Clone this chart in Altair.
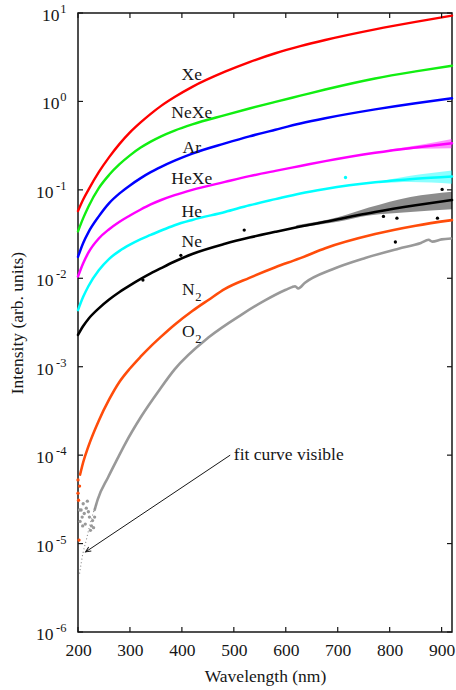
import altair as alt
import pandas as pd

# ---- measured intensity curves: wavelength (nm) and log10 of intensity (arb. units) ----
wl_grid = [200, 210, 220, 240, 260, 280, 300, 320, 340, 360, 386, 420, 483, 530,
           580, 628, 676, 772, 850, 920]
xe_log = [-1.24, -1.11, -1.00, -0.80, -0.63, -0.48, -0.35, -0.24, -0.14, -0.05,
          0.05, 0.165, 0.336, 0.445, 0.545, 0.625, 0.695, 0.815, 0.90, 0.97]
nexe_log = [-1.47, -1.32, -1.19, -0.98, -0.83, -0.71, -0.61, -0.525, -0.455, -0.395,
            -0.33, -0.26, -0.155, -0.08, -0.005, 0.065, 0.135, 0.26, 0.34, 0.404]
ar_log = [-1.757, -1.60, -1.48, -1.30, -1.15, -1.04, -0.95, -0.87, -0.80, -0.74,
          -0.67, -0.59, -0.475, -0.395, -0.32, -0.25, -0.19, -0.09, -0.02, 0.035]
hexe_log = [-1.98, -1.83, -1.71, -1.55, -1.445, -1.36, -1.29, -1.225, -1.165, -1.115,
            -1.06, -1.0, -0.91, -0.845, -0.785, -0.73, -0.675, -0.58, -0.52, -0.474]
he_log = [-2.36, -2.21, -2.09, -1.91, -1.78, -1.69, -1.62, -1.56, -1.51, -1.46,
          -1.40, -1.34, -1.25, -1.175, -1.105, -1.04, -0.99, -0.915, -0.875, -0.85]
ne_log = [-2.64, -2.54, -2.46, -2.34, -2.24, -2.155, -2.08, -2.01, -1.945, -1.885,
          -1.81, -1.725, -1.61, -1.54, -1.475, -1.415, -1.36, -1.25, -1.175, -1.115]

wl_n2 = [204, 210, 220, 240, 260, 280, 300, 320, 340, 360, 386, 420, 451, 483, 530,
         580, 615, 622, 628, 676, 772, 850, 920]
n2_log = [-4.22, -4.08, -3.90, -3.61, -3.37, -3.17, -3.02, -2.89, -2.77, -2.66,
          -2.525, -2.37, -2.245, -2.12, -1.995, -1.875, -1.80, -1.785, -1.772, -1.66,
          -1.50, -1.405, -1.342]

wl_o2 = [232, 238, 258, 276, 290, 322, 357, 386, 451, 515, 560, 600, 612, 618, 624,
         637, 689, 753, 817, 860, 875, 882, 900, 918]
o2_log = [-4.62, -4.50, -4.25, -4.04, -3.88, -3.56, -3.26, -3.03, -2.67, -2.41, -2.25,
          -2.13, -2.10, -2.09, -2.115, -2.05, -1.90, -1.77, -1.665, -1.60, -1.565,
          -1.585, -1.56, -1.55]

# scattered low-signal points at the short-wavelength end
wl_o2_scatter = [203, 204, 206, 208, 209, 210, 212, 214, 216, 218, 220, 222, 224,
                 226, 228, 230, 232]
o2_scatter_log = [-4.62, -4.75, -4.62, -4.70, -4.80, -4.55, -4.66, -4.78, -4.60,
                  -4.52, -4.64, -4.70, -4.85, -4.80, -4.74, -4.82, -4.70]
wl_n2_scatter = [200, 200, 201, 202, 203]
n2_scatter_log = [-4.28, -4.43, -4.51, -4.96, -4.35]

# fitted O2 curve where the data are buried in noise
wl_fit = [203, 209.5, 216, 222, 229, 235]
fit_log = [-5.34, -5.11, -4.96, -4.81, -4.66, -4.55]

# noise envelopes at the long-wavelength end (log10 low / high)
wl_ne_band = [620, 700, 760, 840, 920]
ne_band_lo = [-1.43, -1.36, -1.29, -1.25, -1.22]
ne_band_hi = [-1.40, -1.31, -1.20, -1.08, -1.02]
wl_he_band = [780, 840, 920]
he_band_lo = [-0.925, -0.91, -0.93]
he_band_hi = [-0.905, -0.84, -0.78]
wl_hexe_band = [800, 860, 920]
hexe_band_lo = [-0.565, -0.535, -0.53]
hexe_band_hi = [-0.545, -0.49, -0.425]

# isolated outliers in the Ne and He data
wl_ne_out = [325, 398, 520, 788, 811, 814, 892, 901]
ne_out_log = [-2.02, -1.74, -1.455, -1.30, -1.59, -1.32, -1.32, -0.995]
wl_he_out = [715]
he_out_log = [-0.86]

series = ["Xe", "NeXe", "Ar", "HeXe", "He", "Ne", "N2", "O2"]
colors = ["#ff0000", "#11ee11", "#0000ff", "#ff00ff", "#00ffff", "#000000",
          "#ff4c0a", "#999999"]
widths = [2.4, 2.6, 2.8, 3.4, 2.4, 3.2, 2.2, 3.8]

# curve labels: text, anchor wavelength, anchor intensity
label_text = ["Xe", "NeXe", "Ar", "HeXe", "He", "Ne"]
label_wl = [419, 419, 419, 419, 419, 419]
label_val = [1.99, 0.739, 0.297, 0.1324, 0.0561, 0.0257]
sub_text = ["N", "O"]
sub_wl = [419, 419]
sub_val = [0.00736, 0.00246]

x_ticks = [200, 300, 400, 500, 600, 700, 800, 900]
y_exponents = [1, 0, -1, -2, -3, -4, -5, -6]

note_text = "fit curve visible"
note_wl, note_val = 500, 1.0e-4
arrow_wl = [493, 214.7]
arrow_val = [1.0e-4, 8.05e-6]

# ---- layout / style ----
W, H = 374, 619
FONT = "Liberation Serif"
FS = 17.5
INK = "#161616"

xscale = alt.Scale(domain=[200, 920], nice=False, zero=False)
yscale = alt.Scale(type="log", domain=[1e-6, 10], nice=False)
xaxis = alt.Axis(values=x_ticks, ticks=False, domain=False, grid=False,
                 labelFont=FONT, labelFontSize=FS, labelColor=INK, labelPadding=9,
                 labelFlush=False, title="Wavelength (nm)", titleFont=FONT,
                 titleFontSize=FS, titleFontWeight="normal", titleColor=INK,
                 titlePadding=9)
yaxis = alt.Axis(labels=False, ticks=False, domain=False, grid=False,
                 title="Intensity (arb. units)", titleFont=FONT, titleFontSize=FS,
                 titleFontWeight="normal", titleColor=INK, titlePadding=52)


def X(field="wl"):
    return alt.X(f"{field}:Q", scale=xscale, axis=xaxis)


def Y(field="val"):
    return alt.Y(f"{field}:Q", scale=yscale, axis=yaxis)


def frame(name, wl, logs):
    return pd.DataFrame({"series": name, "wl": wl, "val": [10.0 ** v for v in logs]})


curve_df = pd.concat([
    frame("Xe", wl_grid, xe_log), frame("NeXe", wl_grid, nexe_log),
    frame("Ar", wl_grid, ar_log), frame("HeXe", wl_grid, hexe_log),
    frame("He", wl_grid, he_log), frame("Ne", wl_grid, ne_log),
    frame("N2", wl_n2, n2_log), frame("O2", wl_o2, o2_log),
], ignore_index=True)

color_scale = alt.Scale(domain=series, range=colors)

curves = alt.Chart(curve_df).mark_line(interpolate="monotone", strokeCap="round").encode(
    x=X(), y=Y(),
    color=alt.Color("series:N", scale=color_scale, legend=None),
    strokeWidth=alt.StrokeWidth("series:N", scale=alt.Scale(domain=series, range=widths),
                                legend=None),
    detail="series:N",
)

band_df = pd.concat([
    pd.DataFrame({"series": s, "wl": w, "val": [10.0 ** v for v in lo],
                  "val2": [10.0 ** v for v in hi]})
    for s, w, lo, hi in [("Ne", wl_ne_band, ne_band_lo, ne_band_hi),
                         ("He", wl_he_band, he_band_lo, he_band_hi),
                         ("HeXe", wl_hexe_band, hexe_band_lo, hexe_band_hi)]
], ignore_index=True)
bands = alt.Chart(band_df).mark_area(interpolate="monotone", opacity=0.45).encode(
    x=X(), y=Y(), y2="val2:Q",
    color=alt.Color("series:N", scale=color_scale, legend=None),
    detail="series:N",
)

scatter_df = pd.concat([
    frame("O2", wl_o2_scatter, o2_scatter_log),
    frame("N2", wl_n2_scatter, n2_scatter_log),
    frame("Ne", wl_ne_out, ne_out_log),
    frame("He", wl_he_out, he_out_log),
], ignore_index=True)
scatter = alt.Chart(scatter_df).mark_point(filled=True, size=11, opacity=1).encode(
    x=X(), y=Y(),
    color=alt.Color("series:N", scale=color_scale, legend=None),
)

fit_df = frame("fit", wl_fit, fit_log)
fit_line = alt.Chart(fit_df).mark_line(
    interpolate="monotone", color="#888888", strokeWidth=1.1, strokeDash=[1, 2.5]
).encode(x=X(), y=Y())

# tick marks drawn inside the frame on all four sides
xt_df = pd.DataFrame({"wl": x_ticks})
yt_df = pd.DataFrame({"val": [10.0 ** e for e in y_exponents]})
tick_style = dict(color=INK, strokeWidth=1.2)
xt_bottom = alt.Chart(xt_df).mark_rule(**tick_style).encode(
    x=X(), y=alt.value(H), y2=alt.value(H - 5))
xt_top = alt.Chart(xt_df).mark_rule(**tick_style).encode(
    x=X(), y=alt.value(0), y2=alt.value(5))
yt_left = alt.Chart(yt_df).mark_rule(**tick_style).encode(
    y=Y(), x=alt.value(0), x2=alt.value(5))
yt_right = alt.Chart(yt_df).mark_rule(**tick_style).encode(
    y=Y(), x=alt.value(W), x2=alt.value(W - 5))

# power-of-ten tick labels: "10" with a raised exponent
exp_str = [str(e) for e in y_exponents]
ylab_df = pd.DataFrame({
    "val": [10.0 ** e for e in y_exponents],
    "exp": exp_str,
    "base": ["10"] * len(y_exponents),
    "bx": [-12.0 - 6.6 * len(s.lstrip("-")) - (5.8 if s.startswith("-") else 0) for s in exp_str],
})
ylab_base = alt.Chart(ylab_df).mark_text(
    font=FONT, fontSize=FS, color=INK, align="right", baseline="middle", dy=3
).encode(y=Y(), x=alt.X("bx:Q", scale=None), text="base:N")
ylab_exp = alt.Chart(ylab_df).mark_text(
    font=FONT, fontSize=12.5, color=INK, align="right", baseline="middle", dy=-4
).encode(y=Y(), x=alt.value(-11.5), text="exp:N")

# curve labels
lab_df = pd.DataFrame({"wl": label_wl, "val": label_val, "t": label_text})
labels = alt.Chart(lab_df).mark_text(
    font=FONT, fontSize=FS, color=INK, align="center", baseline="middle"
).encode(x=X(), y=Y(), text="t:N")
sub_df = pd.DataFrame({"wl": sub_wl, "val": sub_val, "t": sub_text, "s": ["2", "2"]})
sub_main = alt.Chart(sub_df).mark_text(
    font=FONT, fontSize=FS, color=INK, align="center", baseline="middle", dx=-3.5
).encode(x=X(), y=Y(), text="t:N")
sub_idx = alt.Chart(sub_df).mark_text(
    font=FONT, fontSize=12.5, color=INK, align="center", baseline="middle", dx=6.5, dy=7
).encode(x=X(), y=Y(), text="s:N")

# annotation with arrow
note_df = pd.DataFrame({"wl": [note_wl], "val": [note_val], "t": [note_text]})
note = alt.Chart(note_df).mark_text(
    font=FONT, fontSize=FS, color=INK, align="left", baseline="middle"
).encode(x=X(), y=Y(), text="t:N")
arrow_df = pd.DataFrame({"wl": arrow_wl, "val": arrow_val, "o": [0, 1]})
arrow_line = alt.Chart(arrow_df).mark_line(color=INK, strokeWidth=1).encode(
    x=X(), y=Y(), order="o:Q")
arrow_head = alt.Chart(arrow_df.iloc[[1]]).mark_point(
    shape="M -1 -0.45 L 0 0 L -1 0.45", size=110, filled=False, stroke=INK,
    strokeWidth=1, angle=146, opacity=1
).encode(x=X(), y=Y())

chart = alt.layer(
    bands, curves, scatter, fit_line,
    xt_bottom, xt_top, yt_left, yt_right,
    ylab_base, ylab_exp, labels, sub_main, sub_idx,
    note, arrow_line, arrow_head,
).properties(
    width=W, height=H,
    padding={"left": 78, "top": 13, "right": 4, "bottom": 58},
    autosize=alt.AutoSizeParams(type="none"),
    background="white",
).configure_view(stroke=INK, strokeWidth=1.5)

chart.save("out.html", embed_options={"renderer": "svg", "actions": False})
